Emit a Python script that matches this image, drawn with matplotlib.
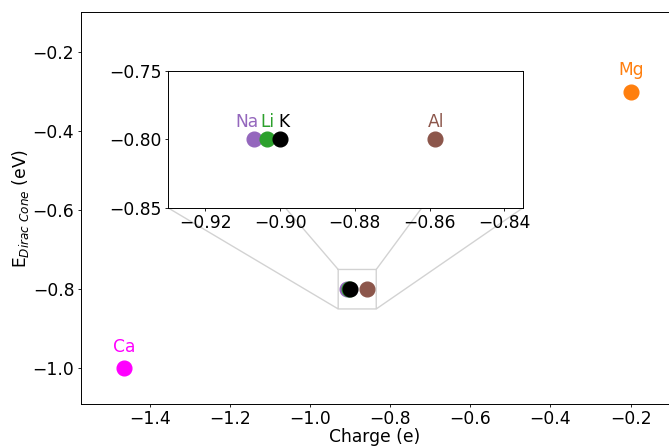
import matplotlib
matplotlib.use("Agg")
import matplotlib.pyplot as plt

plt.rcParams.update({
    "font.family": "DejaVu Sans",
    "font.size": 12.3,
    "xtick.major.size": 2.2,
    "ytick.major.size": 2.2,
    "xtick.major.pad": 2.4,
    "ytick.major.pad": 2.4,
    "xtick.major.width": 0.6,
    "ytick.major.width": 0.6,
    "axes.linewidth": 0.7,
})

# ── Data ──────────────────────────────────────────────────────────────────────
elements = ["Ca", "Mg", "Na", "Li", "K", "Al"]
charge = [-1.465, -0.198, -0.907, -0.9035, -0.900, -0.8585]
e_dirac = [-1.0, -0.3, -0.8, -0.8, -0.8, -0.8]
colors = ["#ff00ff", "#ff7f0e", "#9467bd", "#2ca02c", "black", "#8c564b"]

# which names are written on the full view; the cluster is named in the zoom
main_labels = ["Ca", "Mg"]
# label nudges (points) inside the zoomed panel, to keep names apart
inset_dx = {"Na": -5, "Li": 0, "K": 3, "Al": 1, "Ca": 0, "Mg": 0}

# ── Plot ──────────────────────────────────────────────────────────────────────
fig = plt.figure(figsize=(6.69, 4.46), dpi=100)
ax = fig.add_axes([0.1206, 0.094, 0.8794, 0.878])

for el, x, y, c in zip(elements, charge, e_dirac, colors):
    ax.scatter(x, y, s=112, color=c, zorder=3)
    if el in main_labels:
        ax.annotate(el, (x, y), xytext=(0, 9), textcoords="offset points",
                    ha="center", va="bottom", color=c)

ax.set_xlim(-1.573, -0.104)
ax.set_ylim(-1.091, -0.099)
ax.set_xticks([-1.4, -1.2, -1.0, -0.8, -0.6, -0.4, -0.2])
ax.set_yticks([-1.0, -0.8, -0.6, -0.4, -0.2])
ax.set_xlabel("Charge (e)", labelpad=0)
ax.set_ylabel(r"E$_{Dirac\ Cone}$ (eV)", labelpad=1)

# zoomed panel
axins = fig.add_axes([0.2511, 0.534, 0.5306, 0.307])
for el, x, y, c in zip(elements, charge, e_dirac, colors):
    axins.scatter(x, y, s=112, color=c, zorder=3)
    axins.annotate(el, (x, y), xytext=(inset_dx[el], 6), textcoords="offset points",
                   ha="center", va="bottom", color=c)
axins.set_xlim(-0.93, -0.835)
axins.set_ylim(-0.85, -0.75)
axins.set_xticks([-0.92, -0.90, -0.88, -0.86, -0.84])
axins.set_yticks([-0.85, -0.80, -0.75])

ind = ax.indicate_inset_zoom(axins, edgecolor="0.5", alpha=0.35)
for conn in ind.connectors:
    conn.set_visible(True)

fig.savefig("out.png", dpi=100)
